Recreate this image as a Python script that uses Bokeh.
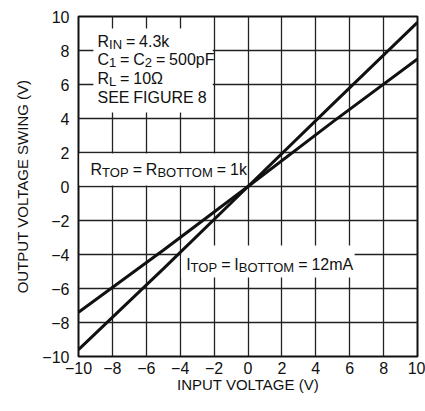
from bokeh.plotting import figure
from bokeh.models import Range1d, FixedTicker, BoxAnnotation, ColumnDataSource
from bokeh.core.properties import value
from bokeh.embed import file_html
from bokeh.resources import INLINE

# ---- data ----
ticks = [-10, -8, -6, -4, -2, 0, 2, 4, 6, 8, 10]
tick_labels = ["\u221210", "\u22128", "\u22126", "\u22124", "\u22122", "0", "2", "4", "6", "8", "10"]

x_steep = [-10, -5, 0, 5, 10]
y_steep = [-9.6, -4.85, 0, 4.85, 9.65]   # R_TOP = R_BOTTOM = 1k
x_shallow = [-10, -5, 0, 5, 10]
y_shallow = [-7.4, -3.75, 0, 3.8, 7.5]   # I_TOP = I_BOTTOM = 12mA

x_title = "INPUT VOLTAGE (V)"
y_title = "OUTPUT VOLTAGE SWING (V)"

FONT = "Liberation Sans"
MAIN = 16
SUB = 13
SUB_DROP = 3
BASE_SHIFT = -6

# Liberation Sans advance widths (1/1000 em)
W = {" ": 240, "=": 584, ".": 278, "k": 500, "p": 556, "F": 611, "m": 833, "A": 667,
     "\u03a9": 768, "C": 722, "R": 722, "I": 278, "N": 722, "L": 556, "T": 611, "O": 778,
     "P": 667, "B": 667, "M": 833, "S": 667, "E": 667, "G": 778, "U": 722}
for d in "0123456789":
    W[d] = 556


def seg_width(s, size):
    return sum(W.get(c, 556) for c in s) / 1000.0 * size


def rich(x, y, lines, line_gap):
    out = dict(x=[], y=[], text=[], dx=[], dy=[], size=[])
    for i, segs in enumerate(lines):
        off = 0.0
        for txt, sub in segs:
            size = SUB if sub else MAIN
            parts = txt.split(" ")
            for j, part in enumerate(parts):
                if j > 0:
                    off += seg_width(" ", MAIN)
                if part:
                    out["x"].append(x)
                    out["y"].append(y)
                    out["text"].append(part)
                    out["dx"].append(off)
                    out["dy"].append(BASE_SHIFT + i * line_gap + (SUB_DROP if sub else 0))
                    out["size"].append("%dpx" % size)
                    off += seg_width(part, size)
    return out


p = figure(width=425, height=411, output_backend="svg", toolbar_location=None,
           x_range=Range1d(-10, 10), y_range=Range1d(-10, 10),
           min_border_left=78, min_border_right=8, min_border_top=16, min_border_bottom=55)
p.background_fill_color = "white"
p.border_fill_color = "white"
p.outline_line_color = "#111111"
p.outline_line_width = 2

for ax in (p.xaxis[0], p.yaxis[0]):
    ax.ticker = FixedTicker(ticks=ticks)
    ax.major_label_overrides = {t: l for t, l in zip(ticks, tick_labels)}
    ax.major_tick_in = 0
    ax.major_tick_out = 0
    ax.minor_tick_line_color = None
    ax.axis_line_color = None
    ax.major_label_text_font = FONT
    ax.major_label_text_font_size = "16px"
    ax.major_label_text_color = "#111111"
    ax.axis_label_text_font = FONT
    ax.axis_label_text_font_size = "15px"
    ax.axis_label_text_font_style = "normal"
    ax.axis_label_text_color = "#111111"

p.xaxis.axis_label = x_title
p.yaxis.axis_label = y_title
p.xaxis.major_label_standoff = 5
p.yaxis.major_label_standoff = 9
p.xaxis.axis_label_standoff = -1
p.yaxis.axis_label_standoff = 8

for g in (p.xgrid[0], p.ygrid[0]):
    g.ticker = FixedTicker(ticks=ticks)
    g.grid_line_color = "#222222"
    g.grid_line_width = 1.3

# white masks behind the annotation texts
for l, r, b, t in [(-9.12, -2.08, 4.35, 9.29), (-9.95, -0.12, 0.06, 1.94), (-3.94, 6.29, -5.35, -3.47)]:
    p.add_layout(BoxAnnotation(left=l, right=r, bottom=b, top=t, fill_color="white",
                               fill_alpha=1.0, line_color=None, level="underlay"))

p.line(x_steep, y_steep, line_color="#111111", line_width=3)
p.line(x_shallow, y_shallow, line_color="#111111", line_width=3)

blocks = [
    rich(-8.88, 8.2, [[("R", 0), ("IN", 1), (" = 4.3k", 0)],
                      [("C", 0), ("1", 1), (" = C", 0), ("2", 1), (" = 500pF", 0)],
                      [("R", 0), ("L", 1), (" = 10\u03a9", 0)],
                      [("SEE FIGURE 8", 0)]], 18.7),
    rich(-9.29, 0.65, [[("R", 0), ("TOP", 1), (" = R", 0), ("BOTTOM", 1), (" = 1k", 0)]], 0),
    rich(-3.65, -4.94, [[("I", 0), ("TOP", 1), (" = I", 0), ("BOTTOM", 1), (" = 12mA", 0)]], 0),
]
for b in blocks:
    src = ColumnDataSource(b)
    p.text(x="x", y="y", text="text", x_offset="dx", y_offset="dy", text_font_size="size",
           text_font=value(FONT), text_color="#111111", text_baseline="alphabetic",
           text_align="left", source=src)

open("out.html", "w").write(file_html(p, INLINE))
